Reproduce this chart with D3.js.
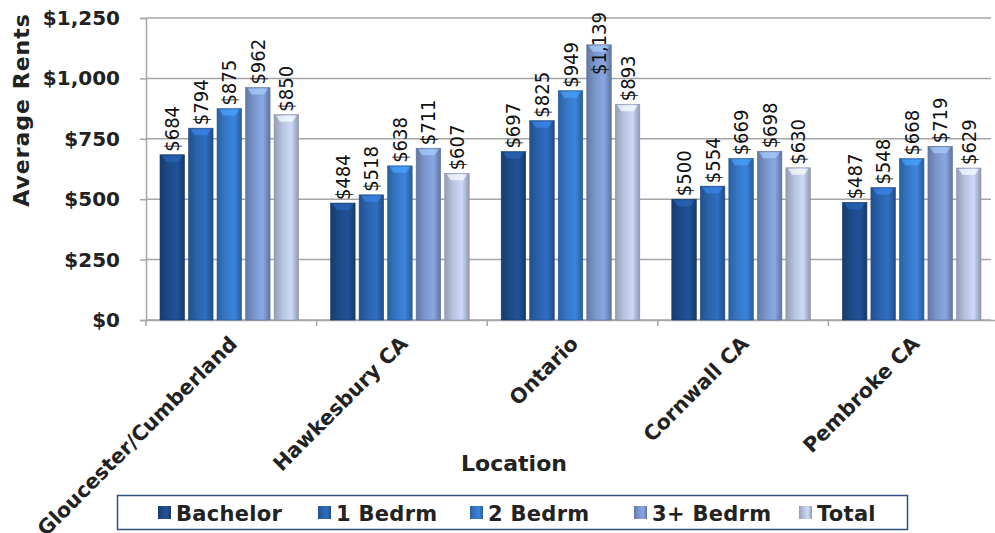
<!DOCTYPE html>
<html>
<head>
<meta charset="utf-8">
<script src="https://cdn.jsdelivr.net/npm/d3@7"></script>
<style>
  body { margin: 0; background: #fff; }
  svg { display: block; font-family: "DejaVu Sans", sans-serif; }
  .tick text { font-family: "DejaVu Sans", sans-serif; font-weight: bold; font-size: 20px; fill: #222; }
  .val { font-family: "DejaVu Sans Condensed", sans-serif; font-size: 20px; fill: #111; }
</style>
</head>
<body>
<div id="chart"></div>
<script>
var locations = ["Gloucester/Cumberland", "Hawkesbury CA", "Ontario", "Cornwall CA", "Pembroke CA"];
var seriesNames = ["Bachelor", "1 Bedrm", "2 Bedrm", "3+ Bedrm", "Total"];
var bachelor = [684, 484, 697, 500, 487];
var bedrm1   = [794, 518, 825, 554, 548];
var bedrm2   = [875, 638, 949, 669, 668];
var bedrm3   = [962, 711, 1139, 698, 719];
var total    = [850, 607, 893, 630, 629];
var yTicks   = [0, 250, 500, 750, 1000, 1250];

var seriesValues = [bachelor, bedrm1, bedrm2, bedrm3, total];
var colors = ["#1d4a88", "#2a63ad", "#3577c6", "#7b96cc", "#b7c3df"];

var width = 995, height = 533;
var margin = {left: 146, right: -4, top: 18, bottom: 213};

var svg = d3.select("#chart").append("svg")
    .attr("width", width)
    .attr("height", height);

var defs = svg.append("defs");
colors.forEach(function (c, i) {
  var g = defs.append("linearGradient").attr("id", "grad" + i)
      .attr("x1", "0").attr("x2", "1").attr("y1", "0").attr("y2", "0");
  g.append("stop").attr("offset", "0%").attr("stop-color", d3.color(c).darker(0.6));
  g.append("stop").attr("offset", "35%").attr("stop-color", c);
  g.append("stop").attr("offset", "70%").attr("stop-color", d3.color(c).brighter(0.3));
  g.append("stop").attr("offset", "100%").attr("stop-color", d3.color(c).darker(0.7));
});

var x0 = d3.scaleBand()
    .domain(locations)
    .range([margin.left, width - margin.right])
    .paddingInner(0)
    .paddingOuter(0);

var x1 = d3.scaleBand()
    .domain(seriesNames)
    .range([14, x0.bandwidth() - 18])
    .paddingInner(0.14);

var y = d3.scaleLinear()
    .domain([0, 1250])
    .range([height - margin.bottom, margin.top]);

// gridlines
svg.append("g")
  .selectAll("line")
  .data(yTicks)
  .enter()
  .append("line")
    .attr("x1", margin.left)
    .attr("x2", 991)
    .attr("y1", function (d) { return y(d); })
    .attr("y2", function (d) { return y(d); })
    .attr("stroke", "#a6a6a6")
    .attr("stroke-width", 1.5);

// y axis
var yAxis = svg.append("g")
    .attr("transform", "translate(" + margin.left + ",0)")
    .call(d3.axisLeft(y).tickValues(yTicks).tickSize(6).tickPadding(20)
      .tickFormat(function (d) { return "$" + d3.format(",")(d); }));
yAxis.selectAll("line, path").attr("stroke", "#a6a6a6").attr("stroke-width", 1.5);

// x axis
var xAxis = svg.append("g")
    .attr("transform", "translate(0," + y(0) + ")")
    .call(d3.axisBottom(x0).tickSize(0).tickFormat(""));
xAxis.select("path").attr("stroke", "#a6a6a6").attr("stroke-width", 1.5);
xAxis.selectAll(".tick").remove();

svg.append("g")
  .selectAll("line")
  .data(locations)
  .enter()
  .append("line")
    .attr("x1", function (d) { return x0(d); })
    .attr("x2", function (d) { return x0(d); })
    .attr("y1", y(0))
    .attr("y2", y(0) + 6)
    .attr("stroke", "#a6a6a6")
    .attr("stroke-width", 1.5);

// category labels
svg.append("g")
  .selectAll("text")
  .data(locations)
  .enter()
  .append("text")
    .attr("transform", function (d) {
      return "translate(" + (x0(d) + x0.bandwidth() / 2 + 7) + "," + (y(0) + 25) + ") rotate(-45)";
    })
    .attr("text-anchor", "end")
    .attr("font-weight", "bold")
    .attr("font-size", 20.5)
    .attr("fill", "#222")
    .text(function (d) { return d; });

// bars
var groups = svg.append("g")
  .selectAll("g")
  .data(locations)
  .enter()
  .append("g")
    .attr("transform", function (d) { return "translate(" + x0(d) + ",0)"; });

var bars = groups.selectAll("g")
  .data(function (d, i) {
    return seriesNames.map(function (s, j) { return {series: s, idx: j, value: seriesValues[j][i]}; });
  })
  .enter()
  .append("g");

bars.append("rect")
    .attr("x", function (d) { return x1(d.series); })
    .attr("y", function (d) { return y(d.value); })
    .attr("width", x1.bandwidth())
    .attr("height", function (d) { return y(0) - y(d.value); })
    .attr("fill", function (d) { return "url(#grad" + d.idx + ")"; })
    .attr("stroke", function (d) { return d3.color(colors[d.idx]).darker(0.8); })
    .attr("stroke-width", 0.6);

// top cap highlight
bars.append("path")
    .attr("d", function (d) {
      var xa = x1(d.series), w = x1.bandwidth(), yt = y(d.value);
      return "M" + (xa + 2) + "," + (yt + 1) + "L" + (xa + w - 2) + "," + (yt + 1) +
             "L" + (xa + w - 6) + "," + (yt + 7) + "L" + (xa + 6) + "," + (yt + 7) + "Z";
    })
    .attr("fill", function (d) { return d3.color(colors[d.idx]).brighter(0.9); })
    .attr("opacity", 0.7);

// value labels (pushed down into the bar when they would run off the top)
bars.append("text")
    .attr("class", "val")
    .text(function (d) { return "$" + d3.format(",")(d.value); })
    .attr("text-anchor", "start")
    .attr("transform", function (d) {
      var len = this.getComputedTextLength();
      var yStart = Math.max(y(d.value) - 3, 12 + len);
      return "translate(" + (x1(d.series) + x1.bandwidth() / 2 + 7) + "," + yStart + ") rotate(-90)";
    });

// axis titles
svg.append("text")
    .attr("x", 514)
    .attr("y", 471)
    .attr("text-anchor", "middle")
    .attr("font-weight", "bold")
    .attr("font-size", 22)
    .attr("fill", "#222")
    .text("Location");

svg.append("text")
    .attr("transform", "translate(29,110) rotate(-90)")
    .attr("text-anchor", "middle")
    .attr("font-weight", "bold")
    .attr("font-size", 22)
    .attr("letter-spacing", 1)
    .attr("fill", "#222")
    .text("Average Rents");

// legend
var legend = svg.append("g");
legend.append("rect")
    .attr("x", 117.5)
    .attr("y", 495.5)
    .attr("width", 790)
    .attr("height", 34)
    .attr("fill", "#fff")
    .attr("stroke", "#2f4f7f")
    .attr("stroke-width", 1.5);

var legendX = [158, 318, 470, 634, 799];
var item = legend.selectAll("g.item")
  .data(seriesNames)
  .enter()
  .append("g")
    .attr("class", "item")
    .attr("transform", function (d, i) { return "translate(" + legendX[i] + ",513)"; });

item.append("rect")
    .attr("x", 0)
    .attr("y", -7)
    .attr("width", 13)
    .attr("height", 13)
    .attr("fill", function (d, i) { return "url(#grad" + i + ")"; });

item.append("text")
    .attr("x", 18)
    .attr("y", 8)
    .attr("font-weight", "bold")
    .attr("font-size", 21)
    .attr("letter-spacing", 0.3)
    .attr("fill", "#222")
    .text(function (d) { return d; });
</script>
</body>
</html>
